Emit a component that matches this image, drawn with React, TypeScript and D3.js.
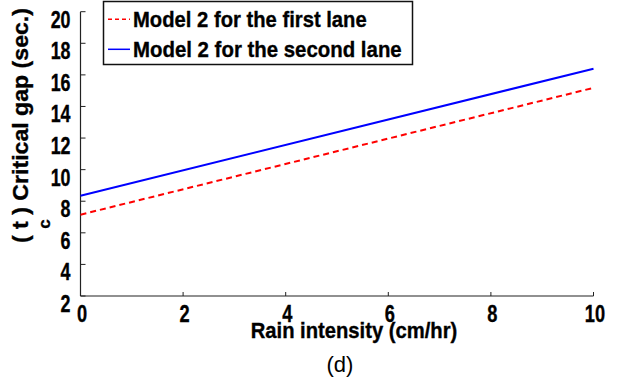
import React from "react";
import * as d3 from "d3";

const xTicks = [0, 2, 4, 6, 8, 10];
const yTicks = [2, 4, 6, 8, 10, 12, 14, 16, 18, 20];
const rainIntensity = [0, 10];
const firstLane = [7.15, 15.18];
const secondLane = [8.35, 16.39];
const legendLabels = ["Model 2 for the first lane", "Model 2 for the second lane"];

const W = 619;
const H = 391;
const FONT = "'Liberation Sans', Arial, sans-serif";
const SX = 0.76;
const BOLD = { fontWeight: "bold" as const, fill: "#000", stroke: "#000", strokeWidth: 0.35 };

export default function App() {
  const x = d3.scaleLinear().domain([0, 10]).range([80.5, 593.5]);
  const y = d3.scaleLinear().domain([2, 20]).range([296, 11.7]);
  const line = d3
    .line<[number, number]>()
    .x((d) => x(d[0]))
    .y((d) => y(d[1]));
  const s1 = rainIntensity.map((r, i) => [r, firstLane[i]] as [number, number]);
  const s2 = rainIntensity.map((r, i) => [r, secondLane[i]] as [number, number]);

  return (
    <svg
      width={W}
      height={H}
      style={{ position: "absolute", left: 0, top: 0, background: "#fff" }}
      fontFamily={FONT}
    >
      {/* axes */}
      <line x1={x(0)} x2={x(0)} y1={y(20)} y2={y(2)} stroke="#222" strokeWidth={1.2} />
      <line x1={x(0)} x2={x(10)} y1={y(2)} y2={y(2)} stroke="#222" strokeWidth={1.2} />
      {yTicks.map((t) => (
        <g key={"y" + t}>
          <line x1={x(0)} x2={x(0) + 5} y1={y(t)} y2={y(t)} stroke="#222" strokeWidth={1} />
          <text
            transform={`translate(70.5,${y(t) + 16}) scale(${SX},1)`}
            textAnchor="end"
            fontSize={23.5}
            {...BOLD}
          >
            {t}
          </text>
        </g>
      ))}
      {xTicks.map((t) => (
        <g key={"x" + t}>
          <line x1={x(t)} x2={x(t)} y1={y(2)} y2={y(2) - 4} stroke="#222" strokeWidth={1} />
          <text
            transform={`translate(${x(t) + 1.5},322) scale(${SX},1)`}
            textAnchor="middle"
            fontSize={24}
            {...BOLD}
          >
            {t}
          </text>
        </g>
      ))}

      {/* series */}
      <path d={line(s2) || ""} fill="none" stroke="#0000ff" strokeWidth={2} />
      <path
        d={line(s1) || ""}
        fill="none"
        stroke="#ff0000"
        strokeWidth={2}
        strokeDasharray="6,4"
      />

      {/* axis labels */}
      <text
        x={250.7}
        y={338}
        fontSize={21.5}
        {...BOLD}
        textLength={206.6}
        lengthAdjust="spacingAndGlyphs"
      >
        Rain intensity (cm/hr)
      </text>
      <text x={340} y={372} textAnchor="middle" fontSize={22} fill="#000">
        (d)
      </text>
      <text
        transform="translate(28,243) rotate(-90)"
        fontSize={22}
        {...BOLD}
        textLength={235}
        lengthAdjust="spacingAndGlyphs"
      >
        ( t ) Critical gap (sec.)
      </text>
      <text
        transform="translate(50,224) rotate(-90)"
        textAnchor="middle"
        fontSize={17}
        {...BOLD}
      >
        c
      </text>

      {/* legend */}
      <rect x={103.5} y={1.5} width={309} height={63} fill="#fff" stroke="#111" strokeWidth={1.5} />
      {legendLabels.map((l, i) => (
        <g key={l}>
          <line
            x1={108}
            x2={130}
            y1={19.3 + i * 30}
            y2={19.3 + i * 30}
            stroke={i === 0 ? "#ff0000" : "#0000ff"}
            strokeWidth={1.5}
            strokeDasharray={i === 0 ? "4,3" : undefined}
          />
          <text
            x={133}
            y={26.7 + i * 30}
            fontSize={22.5}
            {...BOLD}
            textLength={i === 0 ? 233.7 : 268.7}
            lengthAdjust="spacingAndGlyphs"
          >
            {l}
          </text>
        </g>
      ))}
    </svg>
  );
}
